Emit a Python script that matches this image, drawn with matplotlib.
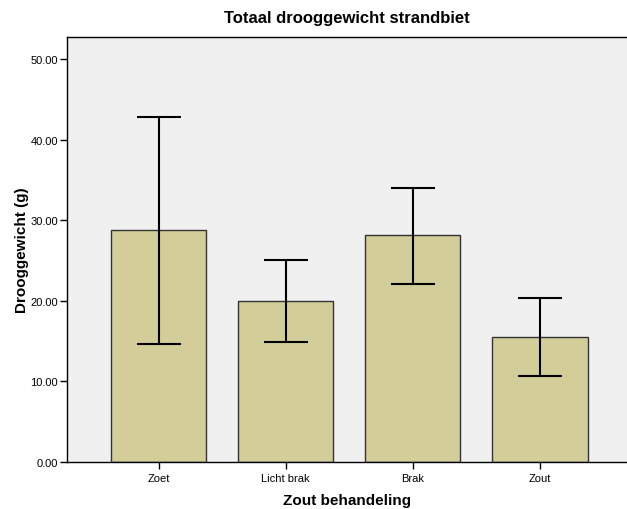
import matplotlib
matplotlib.use("Agg")
import matplotlib.pyplot as plt
import numpy as np

categories = ["Zoet", "Licht brak", "Brak", "Zout"]
means = [28.75, 19.95, 28.15, 15.5]
err_low = [14.6, 14.85, 22.05, 10.65]
err_high = [42.75, 25.05, 34.05, 20.3]
yticks = [0, 10, 20, 30, 40, 50]

plt.rcParams['font.family'] = ['Liberation Sans', 'DejaVu Sans']

fig = plt.figure(figsize=(6.27, 5.10), dpi=100)
ax_l, ax_b, ax_w, ax_h = 67/627, 47/510, 1 - 67/627, (463-38)/510
ax = fig.add_axes([ax_l, ax_b, ax_w, ax_h])
ax.set_facecolor('#F0F0F0')

x = np.arange(len(categories))
m = np.array(means)
yerr = np.vstack([m - np.array(err_low), np.array(err_high) - m])
ax.bar(x, m, width=0.75, color='#D3CE99', edgecolor='#333333', linewidth=1.0, zorder=2)
ax.errorbar(x, m, yerr=yerr, fmt='none', ecolor='black', elinewidth=1.5,
            capsize=16, capthick=1.5, zorder=3)

ax.set_xlim(-0.72, 3.685)
ax.set_ylim(0, (463-38)/((463-60)/50))
ax.set_yticks(yticks)
ax.set_yticklabels([f"{v:.2f}" for v in yticks], fontsize=8)
ax.set_xticks(x)
ax.set_xticklabels(categories, fontsize=8)
ax.tick_params(axis='both', direction='out', length=5, width=1, colors='black')
ax.tick_params(axis='x', pad=3)
ax.tick_params(axis='y', pad=1.5)
for s in ['left', 'bottom', 'top']:
    ax.spines[s].set_linewidth(1.0)
    ax.spines[s].set_color('black')
ax.spines['right'].set_visible(False)

ax.set_ylabel("Drooggewicht (g)", fontsize=11, fontweight='bold')
ax.yaxis.set_label_coords((29-67)/560, 0.5)
ax.set_xlabel("Zout behandeling", fontsize=11, fontweight='bold', va='center')
ax.xaxis.set_label_coords(0.5, (463-501)/425)
fig.text(0.5 * (ax_l + 1), 1 - 19/510, "Totaal drooggewicht strandbiet",
         ha='center', va='center', fontsize=12, fontweight='bold')

fig.savefig("out.png", dpi=100)
